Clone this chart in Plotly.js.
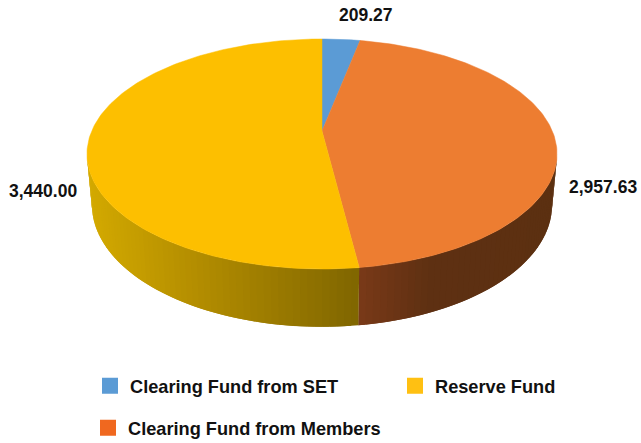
<!DOCTYPE html>
<html>
<head>
<meta charset="utf-8">
<script src="https://cdn.plot.ly/plotly-3.0.1.min.js"></script>
<style>html,body{margin:0;padding:0;background:#fff}#chart{width:641px;height:443px}</style>
</head>
<body>
<div id="chart"></div>
<script>
// Data, in clockwise drawing order from the top of the pie
var categories = ["Clearing Fund from SET", "Clearing Fund from Members", "Reserve Fund"];
var values = [209.27, 2957.63, 3440.00];

// Styles
var faceColors = ["#5B9BD5", "#ED7D31", "#FDBF00"];
var legendColors = ["#5B9BD5", "#F0681F", "#FFC012"];
var wallStops = [
  null,
  [[358, [122, 58, 24]], [430, [94, 48, 18]], [560, [92, 48, 17]]],
  [[85, [212, 170, 0]], [200, [178, 140, 0]], [358, [128, 102, 0]]]
];

// Perspective view of the pie (a tilted circle projected to the page)
var K = 0.2;
var top3d = {cx: 322, cy: 131, a: 230.3, b: 110.4};
var bot3d = {cx: 322, cy: 180.6, a: 225.4, b: 117};

function project(v, deg) {
  var r = deg * Math.PI / 180, s = Math.sin(r), c = Math.cos(r), d = 1 + K * c;
  return [v.cx + v.a * s / d, v.cy - v.b * c / d];
}
function mix(stops, x) {
  if (x <= stops[0][0]) return stops[0][1];
  for (var i = 1; i < stops.length; i++) {
    if (x <= stops[i][0]) {
      var t = (x - stops[i-1][0]) / (stops[i][0] - stops[i-1][0]);
      return stops[i-1][1].map(function (c, j) { return c + t * (stops[i][1][j] - c); });
    }
  }
  return stops[stops.length - 1][1];
}
function rgb(c) { return "rgb(" + c.map(Math.round).join(",") + ")"; }

var total = values.reduce(function (a, b) { return a + b; }, 0);
var bounds = [0];
values.forEach(function (v, i) { bounds.push(bounds[i] + v / total * 360); });

var hidden = Math.acos(-K) * 180 / Math.PI; // where the side wall becomes visible
var traces = [];

// Side walls: each band overlaps the one drawn after it, so no seams show
values.forEach(function (v, i) {
  var from = Math.max(bounds[i], hidden), to = Math.min(bounds[i + 1], 360 - hidden);
  if (to <= from || !wallStops[i]) return;
  var n = Math.ceil((to - from) / 1.5);
  for (var k = 0; k < n; k++) {
    var a0 = from + (to - from) * k / n;
    var a1 = from + (to - from) * (k + 1) / n;
    var aEnd = Math.min(to, a1 + (to - from) / n);
    var p = [project(top3d, a0), project(top3d, a1), project(top3d, aEnd), project(bot3d, aEnd), project(bot3d, a1), project(bot3d, a0)];
    var col = rgb(mix(wallStops[i], (p[0][0] + p[1][0]) / 2));
    traces.push({
      type: "scatter", mode: "lines", fill: "toself", fillcolor: col,
      line: {width: 0},
      x: p.map(function (q) { return q[0]; }).concat(p[0][0]),
      y: p.map(function (q) { return q[1]; }).concat(p[0][1]),
      showlegend: false, hoverinfo: "skip"
    });
  }
});

// Top faces
values.forEach(function (v, i) {
  var xs = [top3d.cx], ys = [top3d.cy];
  var n = Math.max(4, Math.ceil(bounds[i + 1] - bounds[i]));
  for (var k = 0; k <= n; k++) {
    var q = project(top3d, bounds[i] + (bounds[i + 1] - bounds[i]) * k / n);
    xs.push(q[0]); ys.push(q[1]);
  }
  xs.push(top3d.cx); ys.push(top3d.cy);
  traces.push({
    type: "scatter", mode: "lines", fill: "toself", fillcolor: faceColors[i],
    line: {color: faceColors[i], width: 0.5},
    x: xs, y: ys, showlegend: false, name: categories[i],
    text: categories[i] + ": " + v, hoverinfo: "text"
  });
});

// Legend entries, one legend per slot
var legendIds = ["legend", "legend3", "legend2"];
values.forEach(function (v, i) {
  traces.push({
    type: "scatter", mode: "markers", x: [null], y: [null], name: categories[i],
    legend: legendIds[i], showlegend: true, hoverinfo: "skip",
    marker: {symbol: "square", size: 16, color: legendColors[i]}
  });
});

var legendFont = {family: "Liberation Sans, Arial, sans-serif", size: 18.2, color: "#111", weight: 700};
function legendAt(px, py) {
  return {x: px / 641, y: 1 - py / 443, xanchor: "left", yanchor: "middle", xref: "paper", yref: "paper",
    font: legendFont, bgcolor: "rgba(0,0,0,0)", borderwidth: 0, itemclick: false, itemdoubleclick: false};
}
function fmt(v) { return v.toLocaleString("en-US", {minimumFractionDigits: 2, maximumFractionDigits: 2}); }
var labelFont = {family: "Liberation Sans, Arial, sans-serif", size: 17.5, color: "#111", weight: 700};
var labelSpots = [[366, 15], [603, 187], [43, 191]];

var layout = {
  width: 641, height: 443,
  margin: {l: 0, r: 0, t: 0, b: 0, autoexpand: false},
  paper_bgcolor: "#fff", plot_bgcolor: "#fff",
  xaxis: {range: [0, 641], visible: false, fixedrange: true},
  yaxis: {range: [443, 0], visible: false, fixedrange: true},
  showlegend: true,
  legend: legendAt(90, 386),
  legend2: legendAt(395, 386),
  legend3: legendAt(88, 428),
  annotations: values.map(function (v, i) {
    return {x: labelSpots[i][0], y: labelSpots[i][1], xref: "x", yref: "y", text: fmt(v),
      showarrow: false, font: labelFont, xanchor: "center", yanchor: "middle"};
  })
};
Plotly.newPlot("chart", traces, layout, {displayModeBar: false});
</script>
</body>
</html>
